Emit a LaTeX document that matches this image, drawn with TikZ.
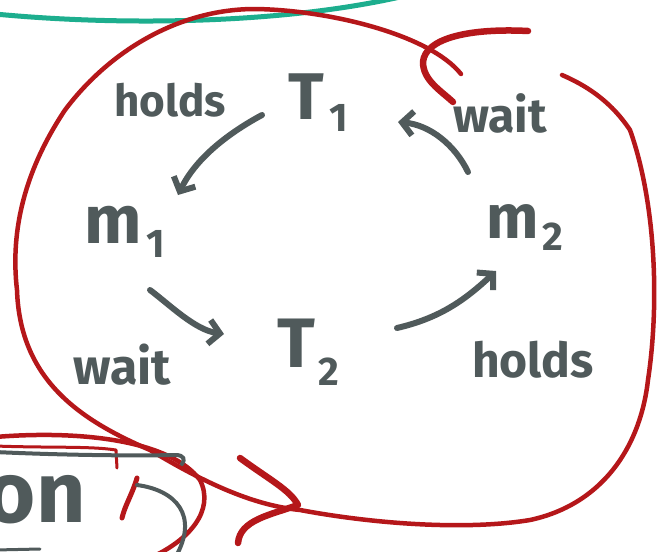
\documentclass[tikz,border=0pt]{standalone}
\usepackage{fontspec}
\setmainfont{Fira Sans}
\usetikzlibrary{arrows.meta}
\definecolor{inkred}{HTML}{B5171A}
\definecolor{ink}{HTML}{505A5B}
\definecolor{inkteal}{HTML}{1DAE8E}
\begin{document}
\begin{tikzpicture}[x=1pt,y=-1pt,line cap=round,line join=round,
  hand/.style={text=ink,inner sep=0pt},
  redline/.style={draw=inkred,line width=4.5pt},
  redthick/.style={draw=inkred,line width=6.5pt},
  greyline/.style={draw=ink,line width=5pt},
  conn/.style={draw=ink,line width=6pt,-{Straight Barb[length=11pt,width=24pt]}}]
\useasboundingbox (0,0) rectangle (670,552);
\clip (0,0) rectangle (670,552);
\fill[white] (0,0) rectangle (670,552);
% teal stroke
\draw[draw=inkteal,line width=5pt] (-5,14) .. controls (120,26) and (280,24) .. (400,-3);
% big red loop
\draw[redline] (461,74) .. controls (430,35) and (330,10) .. (255,9)
  .. controls (180,9) and (110,50) .. (65,110)
  .. controls (25,170) and (10,230) .. (17,290)
  .. controls (20,380) and (80,420) .. (150,450)
  .. controls (200,480) and (250,505) .. (300,510)
  .. controls (380,525) and (470,530) .. (530,520)
  .. controls (600,505) and (640,450) .. (648,380)
  .. controls (660,300) and (655,200) .. (630,130)
  .. controls (610,100) and (585,85) .. (562,75);
\draw[redthick] (528,31) .. controls (470,28) and (425,38) .. (423,62)
  .. controls (423,80) and (440,90) .. (453,102);
\draw[redthick] (240,458) .. controls (270,480) and (290,490) .. (298,505)
  .. controls (270,515) and (240,520) .. (238,543);
% bottom-left scribbles
\draw[redline] (-5,437) .. controls (80,430) and (170,440) .. (200,480)
  .. controls (215,510) and (190,540) .. (150,558);
\draw[redline,line width=3pt] (-5,446) .. controls (50,448) and (90,446) .. (116,450) -- (117,468);
\draw[greyline,line width=4pt] (-5,452) .. controls (60,455) and (130,456) .. (175,455)
  .. controls (185,455) and (185,460) .. (182,464);
\draw[redthick,line width=5pt] (137,478) .. controls (132,495) and (125,505) .. (122,518);
\draw[greyline,line width=4pt] (137,485) .. controls (175,490) and (200,515) .. (175,558);
\draw[greyline,line width=3pt] (-5,550) -- (40,549);
\node[hand,anchor=east,font=\fontsize{86}{86}\selectfont\bfseries] (on) at (86,500) {on};
% labels
\node[hand,font=\fontsize{44}{44}\selectfont\bfseries] (holdsA) at (170,100) {holds};
\node[hand,font=\fontsize{48}{48}\selectfont\bfseries] (waitA) at (500,113) {wait};
\node[hand,font=\fontsize{50}{50}\selectfont\bfseries] (waitB) at (122,365) {wait};
\node[hand,font=\fontsize{48}{48}\selectfont\bfseries] (holdsB) at (533,360) {holds};
\node[hand] (T1) at (318,103) {\fontsize{66}{66}\selectfont\bfseries T\kern5pt\raisebox{-12pt}{\fontsize{40}{40}\selectfont 1}};
\node[hand] (T2) at (308,352) {\fontsize{70}{70}\selectfont\bfseries T\kern3pt\raisebox{-18pt}{\fontsize{40}{40}\selectfont 2}};
\node[hand] (m1) at (125,232) {\fontsize{68}{68}\selectfont\bfseries m\kern5pt\raisebox{-14pt}{\fontsize{40}{40}\selectfont 1}};
\node[hand] (m2) at (525,228) {\fontsize{62}{62}\selectfont\bfseries m\kern3pt\raisebox{-12pt}{\fontsize{40}{40}\selectfont 2}};
% connectors
\coordinate (a1) at (262,115); \coordinate (a2) at (178,195);
\coordinate (b1) at (468,172); \coordinate (b2) at (398,122);
\coordinate (c1) at (150,290); \coordinate (c2) at (224,334);
\coordinate (d1) at (397,328); \coordinate (d2) at (496,271);
\draw[conn] (a1) .. controls (225,135) and (195,160) .. (a2);
\draw[conn] (b1) .. controls (455,145) and (430,125) .. (b2);
\draw[conn] (c1) .. controls (170,305) and (195,330) .. (c2);
\draw[conn] (d1) .. controls (440,318) and (465,300) .. (d2);
\end{tikzpicture}
\end{document}
